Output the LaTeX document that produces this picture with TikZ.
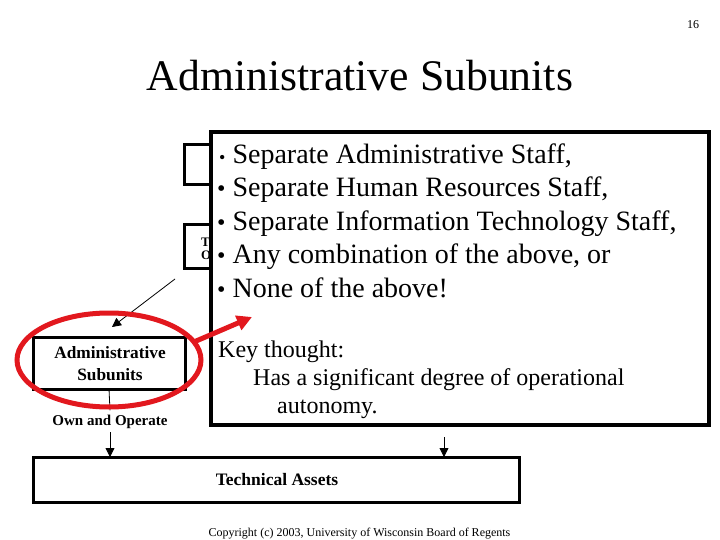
\documentclass[tikz,border=0pt]{standalone}
\usepackage{fontspec}
\setmainfont{Liberation Serif}
\usetikzlibrary{arrows.meta,shapes.geometric}
\definecolor{markred}{RGB}{226,24,30}
\newcommand{\sizept}[1]{\fontsize{#1pt}{#1pt}\selectfont}

\tikzset{
	boxline/.style={draw=black, line width=3pt, inner sep=0pt, outer sep=0pt},
	thinarrow/.style={line width=0.8pt, -{Triangle[length=9pt,width=9pt]}},
	redmark/.style={draw=markred, line width=5pt},
	txt/.style={inner sep=0pt, anchor=base west},
}

\begin{document}
\begin{tikzpicture}[x=1pt, y=-1pt]
		%%%%% START %%%%%
		\useasboundingbox (0,0) rectangle (720,540);
		
		\node[txt, anchor=base] (pagenum) at (693,29) {\sizept{12}16};
		\node[txt, anchor=base] (title) at (360,91) {\sizept{43.7}Administrative Subunits};
		
		% boxes under the panel
		\node[boxline, minimum width=80pt, minimum height=40pt, anchor=north west] (boxA) at (184,145) {};
		\node[boxline, minimum width=80pt, minimum height=43pt, anchor=north west] (boxB) at (184,225) {};
		\node[txt, font=\bfseries] (boxBa) at (201,246) {\sizept{13}T};
		\node[txt, font=\bfseries] (boxBb) at (201,259) {\sizept{13}O};
		
		\coordinate (ptail) at (175,279);
		\coordinate (phead) at (112,327);
		\draw[thinarrow] (ptail) -- (phead);
		
		% left column
		\node[boxline, minimum width=152pt, minimum height=52pt] (admin) at (109,363) {};
		\node[txt, anchor=base, font=\bfseries] (adminA) at (110,358) {\sizept{17.3}Administrative};
		\node[txt, anchor=base, font=\bfseries] (adminB) at (110,380) {\sizept{17.3}Subunits};
		\node[txt, anchor=base, font=\bfseries, inner sep=4pt] (own) at (110,425) {\sizept{15}Own and Operate};
		\draw[line width=0.8pt] (admin.south) -- (own.north);
		
		\node[boxline, minimum width=486pt, minimum height=45pt] (tech) at (276,479.5) {};
		\node[txt, anchor=base, font=\bfseries] (techlabel) at (277,485) {\sizept{17.5}Technical Assets};
		\draw[thinarrow] (own.south) -- (own.south |- tech.north);
		\coordinate (ttail) at (444,437);
		\draw[thinarrow] (ttail) -- (ttail |- tech.north);
		
		% the panel on top
		\node[draw, fill=white, line width=4pt, minimum width=498pt, minimum height=293pt,
			inner sep=0pt, outer sep=0pt, anchor=north west] (panel) at (211,132) {};
		
		\node[txt] (item1) at (219,163.5) {\sizept{28}{\sizept{18}\textbullet} Separate Administrative Staff,};
		\foreach \ln [count=\i from 2] in {{Separate Human Resources Staff,},{Separate Information Technology Staff,},{Any combination of the above, or},{None of the above!}}
			\node[txt] (item\i) at (217,{163.5+33.4*(\i-1)}) {\sizept{28}{\sizept{24}\textbullet}\ \ln};
		
		\node[txt] (keyA) at (218,357) {\sizept{24}Key thought:};
		\node[txt] (keyB) at (253,385) {\sizept{24}Has a significant degree of operational};
		\node[txt] (keyC) at (277,413) {\sizept{24}autonomy.};
		
		% red marking
		\node[redmark, ellipse, minimum width=184pt, minimum height=94pt, inner sep=0pt, outer sep=0pt] (ring) at (109,360) {};
		\coordinate (rtip) at (252,317);
		\draw[redmark, -{Triangle[length=15pt,width=15pt]}] (ring.12) -- (rtip);
		
		\node[txt, anchor=base] (copy) at (359.5,536) {\sizept{12}Copyright (c) 2003, University of Wisconsin Board of Regents};
		
		%%%%% END %%%%%
\end{tikzpicture}
\end{document}
